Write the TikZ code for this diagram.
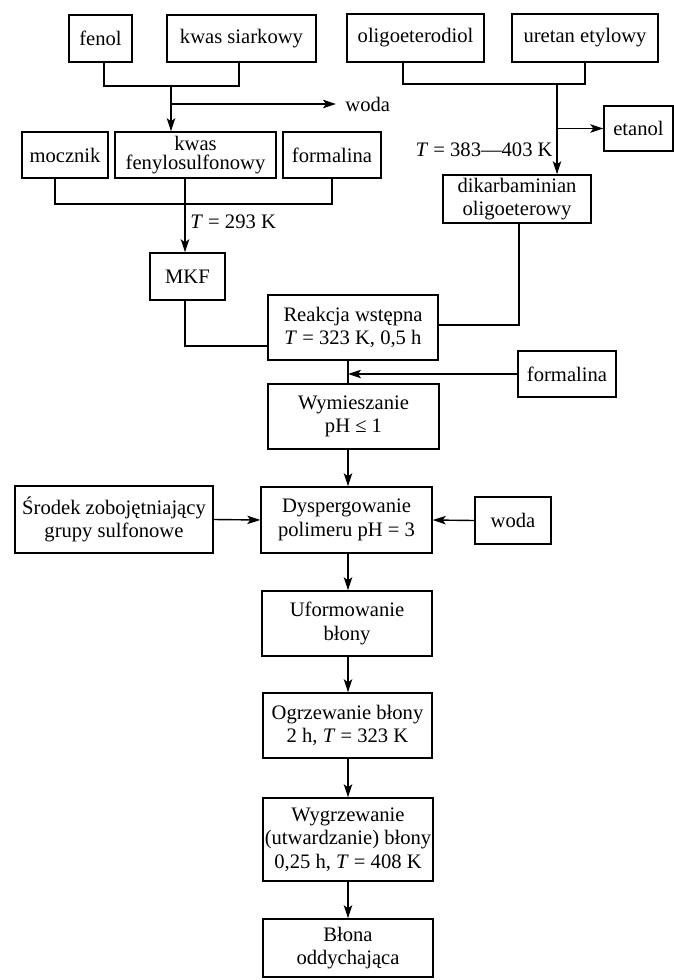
\documentclass[tikz,border=0pt]{standalone}
\usepackage{fontspec}
\setmainfont{Liberation Serif}
\usetikzlibrary{arrows.meta}
\begin{document}
\begin{tikzpicture}[x=0.5pt,y=-0.5pt,
  box/.style={draw, line width=0.7pt, inner sep=0pt, align=center, font=\fontsize{10.3}{11.8}\selectfont},
  lbl/.style={inner sep=0pt, font=\fontsize{10.3}{11.8}\selectfont},
  ln/.style={line width=0.7pt},
  arr/.style={line width=0.7pt, -{Stealth[length=6.5pt,width=4.2pt,inset=1.5pt]}}]
\useasboundingbox (0,0) rectangle (674,980);

% top row
\node[box, minimum width=31.5pt, minimum height=23.5pt] (fenol) at (100.5,38.5) {fenol};
\node[box, minimum width=74.5pt, minimum height=23.5pt] (ks) at (241.5,38.5) {kwas siarkowy};
\node[box, minimum width=68.5pt, minimum height=24pt] (od) at (415.5,38) {oligoeterodiol};
\node[box, minimum width=73pt, minimum height=24pt] (ue) at (585,38) {uretan etylowy};

% second row
\node[box, minimum width=43pt, minimum height=23pt] (moc) at (65,155) {mocznik};
\node[box, minimum width=80.5pt, minimum height=23pt] (kf) at (195.5,155) {kwas\\[-2.5pt]fenylosulfonowy};
\node[box, minimum width=49pt, minimum height=23pt] (form1) at (332,155) {formalina};
\node[box, minimum width=34.5pt, minimum height=22.5pt] (etanol) at (638.5,128.5) {etanol};
\node[box, minimum width=74pt, minimum height=24pt] (dik) at (517,199) {dikarbaminian\\oligoeterowy};
\node[lbl, anchor=west, inner xsep=4.5pt] (woda1) at (336,104) {woda};

% middle
\node[box, minimum width=37.5pt, minimum height=23.5pt] (mkf) at (187.5,276.5) {MKF};
\node[box, minimum width=85pt, minimum height=32.5pt] (reak) at (353,327.5) {Reakcja wstępna\\\textit{T} = 323 K, 0,5 h};
\node[box, minimum width=49pt, minimum height=23pt] (form2) at (567,374) {formalina};
\node[box, minimum width=85.5pt, minimum height=32.5pt] (wym) at (353.5,416.5) {Wymieszanie\\pH ≤ 1};
\node[box, minimum width=99pt, minimum height=33.5pt] (srod) at (114,519.5) {Środek zobojętniający\\grupy sulfonowe};
\node[box, minimum width=85.5pt, minimum height=33pt] (dysp) at (346.5,520) {Dyspergowanie\\polimeru pH = 3};
\node[box, minimum width=38pt, minimum height=23.5pt] (woda2) at (513,520.5) {woda};

% bottom column
\node[box, minimum width=85pt, minimum height=32.5pt] (uform) at (347,623.5) {Uformowanie\\błony};
\node[box, minimum width=84.5pt, minimum height=32.5pt] (ogrz) at (347.5,725.5) {Ogrzewanie błony\\2 h, \textit{T} = 323 K};
\node[box, minimum width=85pt, minimum height=41.5pt] (wygrz) at (348,839.5) {Wygrzewanie\\(utwardzanie) błony\\0,25 h, \textit{T} = 408 K};
\node[box, minimum width=85pt, minimum height=29pt] (blona) at (348,948) {Błona\\oddychająca};

% labels
\node[lbl, anchor=west] (t293) at (190,222) {\textit{T} = 293 K};
\node[lbl, anchor=east] (t383) at (553,150) {\textit{T} = 383—403 K};

% connectors: left top
\coordinate (j1) at (171,86);
\draw[ln] ([xshift=1.75pt]fenol.south) |- (j1) -| ([xshift=-1.25pt]ks.south);
\draw[arr] (j1) -- (j1 |- kf.north);
\draw[arr] (j1 |- woda1.west) -- (woda1.west);

\coordinate (j2) at (185,204);
\draw[ln] ([xshift=-5pt]moc.south) |- (j2) -| (form1.south);
\draw[ln] (kf.south -| j2) -- (j2);
\draw[arr] (j2) -- (j2 |- mkf.north);

% connectors: right top
\coordinate (j3) at (557,84);
\draw[ln] ([xshift=-6.25pt]od.south) |- (j3) -| (ue.south);
\draw[arr] (j3) -- (j3 |- dik.north);
\draw[arr] (j3 |- etanol.west) -- (etanol.west);

% into reaction
\draw[ln] ([xshift=1pt]dik.south) |- ([yshift=1.25pt]reak.east);
\draw[ln] (mkf.south -| j2) |- ([yshift=-9.25pt]reak.west);

% main column
\coordinate (m1) at (348,374);
\draw[ln] (reak.south -| m1) -- (wym.north -| m1);
\draw[arr] (form2.west) -- (form2.west -| m1);
\draw[arr] (wym.south -| m1) -- (dysp.north -| m1);
\draw[arr] (srod.east) -- (dysp.west);
\draw[arr] (woda2.west) -- (dysp.east);
\draw[arr] (dysp.south -| m1) -- (uform.north -| m1);
\draw[arr] (uform.south -| m1) -- (ogrz.north -| m1);
\draw[arr] (ogrz.south -| m1) -- (wygrz.north -| m1);
\draw[arr] (wygrz.south -| m1) -- (blona.north -| m1);
\end{tikzpicture}
\end{document}
